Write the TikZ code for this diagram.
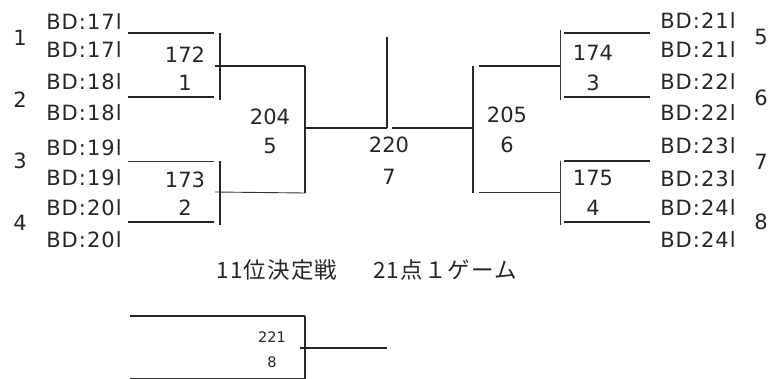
\documentclass[tikz,border=0pt]{standalone}
\usepackage{fontspec}
\setmainfont{DejaVu Sans}
\newfontfamily\jpfont[LetterSpace=5]{Noto Sans CJK JP}
\newfontfamily\bdfont[LetterSpace=5]{DejaVu Sans}
\usepackage{tikz}
\usetikzlibrary{positioning}

\begin{document}
\begin{tikzpicture}[
  x=1pt, y=-1pt,
  font=\fontsize{21}{25}\selectfont,
  entry/.style={
    font=\bdfont\fontsize{21}{25}\selectfont,
    text=black!85,
    inner sep=0pt
  },
  seed/.style={
    text=black!85,
    inner sep=0pt
  },
  match/.style={
    text=black!85,
    inner sep=0pt
  },
  caption/.style={
    font=\jpfont\fontsize{22.5}{26}\selectfont,
    text=black!85,
    inner sep=0pt
  },
  bar/.style={
    draw=black!85,
    line width=1.5pt
  },
  thinbar/.style={
    draw=black!80,
    line width=0.9pt
  }
]

\useasboundingbox (0,0) rectangle (782,379);

% -------------------------------------------------------------------
% Left entries
% -------------------------------------------------------------------
\node[entry] (l1) at (84,22)  {BD:17l};
\node[entry] (l2) at (84,50)  {BD:17l};
\node[entry] (l3) at (84,82)  {BD:18l};
\node[entry] (l4) at (84,113) {BD:18l};
\node[entry] (l5) at (84,148) {BD:19l};
\node[entry] (l6) at (84,178) {BD:19l};
\node[entry] (l7) at (84,208) {BD:20l};
\node[entry] (l8) at (84,240) {BD:20l};

\node[seed] (ls1) at (20,38)  {1};
\node[seed] (ls2) at (20,100) {2};
\node[seed] (ls3) at (20,161) {3};
\node[seed] (ls4) at (20,223) {4};

% -------------------------------------------------------------------
% Right entries
% -------------------------------------------------------------------
\node[entry] (r1) at (698,21)  {BD:21l};
\node[entry] (r2) at (698,50)  {BD:21l};
\node[entry] (r3) at (698,82)  {BD:22l};
\node[entry] (r4) at (698,113) {BD:22l};
\node[entry] (r5) at (698,146) {BD:23l};
\node[entry] (r6) at (698,179) {BD:23l};
\node[entry] (r7) at (698,208) {BD:24l};
\node[entry] (r8) at (698,240) {BD:24l};

\node[seed] (rs1) at (761,37)  {5};
\node[seed] (rs2) at (761,98)  {6};
\node[seed] (rs3) at (761,162) {7};
\node[seed] (rs4) at (761,222) {8};

% -------------------------------------------------------------------
% Left bracket
% -------------------------------------------------------------------
\coordinate (a1) at (128,33);
\coordinate (a2) at (128,97);
\coordinate (a3) at (128,161);
\coordinate (a4) at (128,222);
\coordinate (b1) at (214,33);
\coordinate (b2) at (214,97);
\coordinate (b3) at (214,161);
\coordinate (b4) at (214,222);
\coordinate (va1) at (220,33);
\coordinate (va2) at (220,100);
\coordinate (va3) at (220,161);
\coordinate (va4) at (220,225);
\coordinate (wa1) at (215,66);
\coordinate (wa2) at (215,192);
\coordinate (xa1) at (305,66);
\coordinate (xa2) at (305,193);
\coordinate (xa0) at (305,128);

\draw[bar] (a1) -- (b1);
\draw[bar] (a2) -- (b2);
\draw[thinbar] (a3) -- (b3);
\draw[bar] (a4) -- (b4);
\draw[bar] (va1) -- (va2);
\draw[bar] (va3) -- (va4);
\draw[bar] (wa1) -- (xa1);
\draw[thinbar] (wa2) -- (xa2);
\draw[bar] (xa1) -- (xa2);

\node[match] (m172) at (185,55)  {172};
\node[match] (m1)   at (185,83)  {1};
\node[match] (m173) at (185,180) {173};
\node[match] (m2)   at (185,208) {2};
\node[match] (m204) at (270,117) {204};
\node[match] (m5)   at (270,146) {5};

% -------------------------------------------------------------------
% Final
% -------------------------------------------------------------------
\coordinate (c0) at (387,37);
\coordinate (c1) at (387,128);
\coordinate (c2) at (392,128);
\coordinate (xb0) at (473,128);

\draw[bar] (xa0) -- (c1);
\draw[bar] (c2) -- (xb0);
\draw[bar] (c0) -- (c1);

\node[match] (m220) at (389,145) {220};
\node[match] (m7)   at (389,177) {7};

% -------------------------------------------------------------------
% Right bracket
% -------------------------------------------------------------------
\coordinate (d1) at (650,33);
\coordinate (d2) at (650,97);
\coordinate (d3) at (650,161);
\coordinate (d4) at (650,222);
\coordinate (e1) at (564,33);
\coordinate (e2) at (564,97);
\coordinate (e3) at (564,161);
\coordinate (e4) at (564,222);
\coordinate (vb1) at (560,30);
\coordinate (vb2) at (560,100);
\coordinate (vb3) at (560,161);
\coordinate (vb4) at (560,225);
\coordinate (wb1) at (560,66);
\coordinate (wb2) at (560,192);
\coordinate (xb1) at (473,66);
\coordinate (xb2) at (473,193);
\coordinate (yb1) at (479,66);
\coordinate (yb2) at (479,192);

\draw[bar] (e1) -- (d1);
\draw[bar] (e2) -- (d2);
\draw[bar] (e3) -- (d3);
\draw[bar] (e4) -- (d4);
\draw[thinbar] (vb1) -- (vb2);
\draw[thinbar] (vb3) -- (vb4);
\draw[bar] (yb1) -- (wb1);
\draw[thinbar] (yb2) -- (wb2);
\draw[bar] (xb1) -- (xb2);

\node[match] (m174) at (593,53)  {174};
\node[match] (m3)   at (593,83)  {3};
\node[match] (m175) at (593,178) {175};
\node[match] (m4)   at (593,208) {4};
\node[match] (m205) at (507,115) {205};
\node[match] (m6)   at (507,145) {6};

% -------------------------------------------------------------------
% Title
% -------------------------------------------------------------------
\node[caption] (rank) at (277,270) {11位決定戦};
\node[caption] (rule) at (445,270) {21点１ゲーム};

% -------------------------------------------------------------------
% Placement match
% -------------------------------------------------------------------
\coordinate (p1) at (130,316);
\coordinate (p2) at (130,378);
\coordinate (q1) at (305,316);
\coordinate (q2) at (305,379);
\coordinate (q3) at (305,378);
\coordinate (q0) at (300,348);
\coordinate (q4) at (387,348);

\draw[bar] (p1) -- (q1);
\draw[bar] (q1) -- (q2);
\draw[thinbar] (p2) -- (q3);
\draw[bar] (q0) -- (q4);

\node[match, font=\fontsize{14.5}{17}\selectfont] (m221) at (272,337) {221};
\node[match, font=\fontsize{14.5}{17}\selectfont] (m8)   at (272,362) {8};

\end{tikzpicture}
\end{document}
